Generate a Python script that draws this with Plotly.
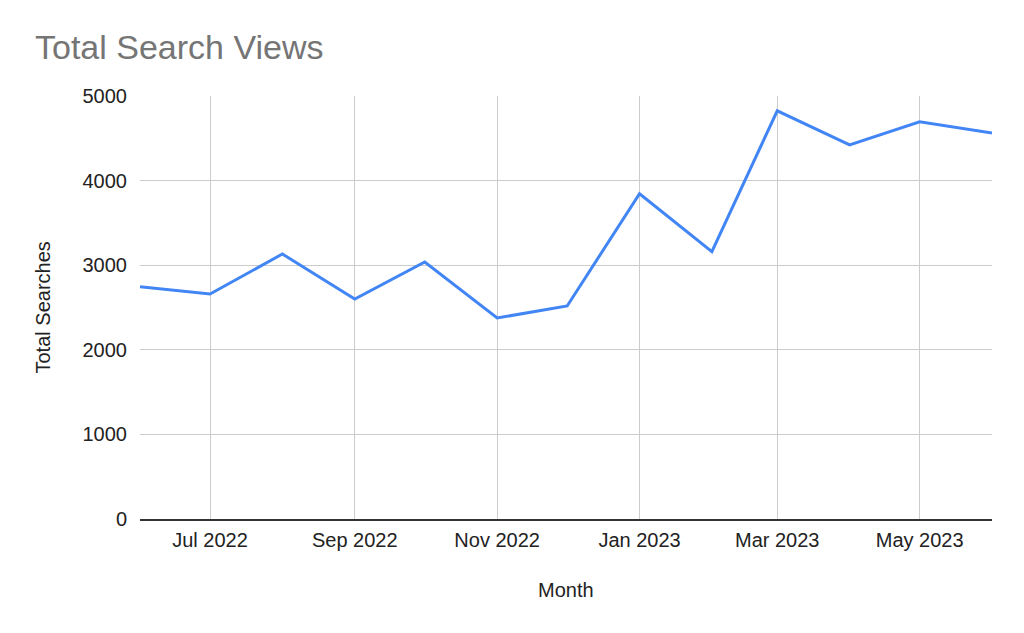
import plotly.graph_objects as go

months = ["2022-06-01", "2022-07-01", "2022-08-01", "2022-09-01", "2022-10-01",
          "2022-11-01", "2022-12-01", "2023-01-01", "2023-02-01", "2023-03-01",
          "2023-04-01", "2023-05-01", "2023-06-01"]
searches = [2745, 2660, 3132, 2600, 3038, 2376, 2518, 3845, 3160, 4825, 4422, 4695, 4563]

y_ticks = [0, 1000, 2000, 3000, 4000, 5000]

FONT = "Arial, Liberation Sans, Helvetica, sans-serif"

fig = go.Figure()
fig.add_trace(go.Scatter(
    x=months, y=searches, mode="lines",
    line=dict(color="#4285F4", width=3),
    hoverinfo="x+y", showlegend=False,
))

fig.update_layout(
    width=1016, height=625,
    margin=dict(l=132, r=32, t=88, b=114),
    paper_bgcolor="white", plot_bgcolor="white",
    font=dict(family=FONT, size=20, color="#222222"),
    xaxis=dict(
        type="date",
        range=["2022-06-01", "2023-06-01"],
        tick0="2022-07-01", dtick="M2",
        tickformat="%b %Y",
        showgrid=True, gridcolor="#cccccc", gridwidth=1,
        showline=True, linecolor="#333333", linewidth=1.5,
        zeroline=False,
        ticks="", ticklabelstandoff=2,
        tickfont=dict(family=FONT, size=20, color="#222222"),
    ),
    yaxis=dict(
        range=[0, 5000],
        tickvals=y_ticks,
        showgrid=True, gridcolor="#cccccc", gridwidth=1,
        zeroline=False, showline=False,
        ticks="", ticklabelstandoff=12,
        tickfont=dict(family=FONT, size=20, color="#222222"),
    ),
    annotations=[
        dict(text="Total Search Views", xref="paper", yref="paper",
             x=-0.1255, y=1.0, xanchor="left", yanchor="bottom", yshift=28,
             showarrow=False, font=dict(family=FONT, size=34, color="#757575")),
        dict(text="Month", xref="paper", yref="paper",
             x=0.5, y=0, xanchor="center", yanchor="middle", yshift=-71,
             showarrow=False, font=dict(family=FONT, size=20, color="#222222")),
        dict(text="Total Searches", xref="paper", yref="paper",
             x=0, y=0.5, xanchor="center", yanchor="middle", xshift=-98,
             textangle=-90,
             showarrow=False, font=dict(family=FONT, size=20, color="#222222")),
    ],
)

fig.write_html("out.html")
